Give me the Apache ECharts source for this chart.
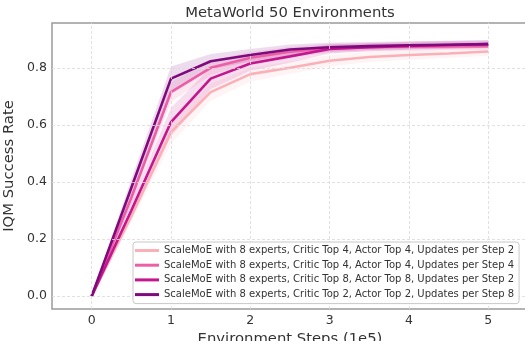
<!DOCTYPE html>
<html><head><meta charset="utf-8">
<script src="https://cdn.jsdelivr.net/npm/echarts@6/dist/echarts.min.js"></script>
<style>html,body{margin:0;padding:0;background:#fff}#c{width:525px;height:341px}</style>
</head><body><div id="c"></div>
<script>
const steps = [0, 0.5, 1, 1.5, 2, 2.5, 3, 3.5, 4, 4.5, 5];
const xTicks = [0, 1, 2, 3, 4, 5];
const yTicks = [0, 0.2, 0.4, 0.6, 0.8];
const names = [
  'ScaleMoE with 8 experts, Critic Top 4, Actor Top 4, Updates per Step 2',
  'ScaleMoE with 8 experts, Critic Top 4, Actor Top 4, Updates per Step 4',
  'ScaleMoE with 8 experts, Critic Top 8, Actor Top 8, Updates per Step 2',
  'ScaleMoE with 8 experts, Critic Top 2, Actor Top 2, Updates per Step 8'
];
const colors = ['#fbb0b8', '#ee5ea6', '#c4168f', '#7e0a7e'];
const meanTop4U2 = [0, 0.28, 0.575, 0.715, 0.778, 0.800, 0.825, 0.838, 0.845, 0.850, 0.857];
const meanTop4U4 = [0, 0.345, 0.715, 0.800, 0.835, 0.856, 0.868, 0.872, 0.874, 0.875, 0.876];
const meanTop8U2 = [0, 0.30, 0.610, 0.762, 0.815, 0.840, 0.866, 0.872, 0.877, 0.880, 0.883];
const meanTop2U8 = [0, 0.38, 0.762, 0.823, 0.845, 0.864, 0.872, 0.876, 0.879, 0.881, 0.883];
const lowTop4U2 = [0, 0.26, 0.535, 0.685, 0.752, 0.778, 0.805, 0.820, 0.828, 0.834, 0.842];
const highTop4U2 = [0, 0.30, 0.615, 0.745, 0.800, 0.822, 0.845, 0.856, 0.862, 0.866, 0.872];
const lowTop4U4 = [0, 0.32, 0.680, 0.775, 0.815, 0.838, 0.852, 0.858, 0.860, 0.862, 0.863];
const highTop4U4 = [0, 0.37, 0.750, 0.825, 0.855, 0.873, 0.884, 0.886, 0.888, 0.889, 0.890];
const lowTop8U2 = [0, 0.27, 0.560, 0.725, 0.790, 0.818, 0.850, 0.858, 0.863, 0.866, 0.869];
const highTop8U2 = [0, 0.33, 0.660, 0.800, 0.840, 0.860, 0.882, 0.886, 0.891, 0.894, 0.897];
const lowTop2U8 = [0, 0.35, 0.715, 0.795, 0.822, 0.845, 0.856, 0.862, 0.865, 0.868, 0.870];
const highTop2U8 = [0, 0.41, 0.805, 0.848, 0.866, 0.882, 0.888, 0.890, 0.893, 0.895, 0.897];

const means = [meanTop4U2, meanTop4U4, meanTop8U2, meanTop2U8];
const lows = [lowTop4U2, lowTop4U4, lowTop8U2, lowTop2U8];
const highs = [highTop4U2, highTop4U4, highTop8U2, highTop2U8];

const series = [];
const gridLineData = xTicks.map(v => ({xAxis: v})).concat(yTicks.map(v => ({yAxis: v})));
series.push({
  name: 'grid', type: 'line', symbol: 'none', silent: true, z: 0,
  lineStyle: {opacity: 0}, data: [[0, 0]],
  markLine: {
    silent: true, symbol: 'none', label: {show: false}, animation: false,
    lineStyle: {color: '#d9d9d9', type: [3, 2], width: 0.8},
    data: gridLineData
  }
});
means.forEach((m, i) => {
  series.push({
    name: 'band_' + i, type: 'custom', silent: true, z: 1,
    data: steps.map((x, j) => [x, lows[i][j], highs[i][j]]),
    renderItem: function (params, api) {
      if (params.dataIndex !== 0) return null;
      const pts = [];
      for (let j = 0; j < steps.length; j++) pts.push(api.coord([steps[j], highs[i][j]]));
      for (let j = steps.length - 1; j >= 0; j--) pts.push(api.coord([steps[j], lows[i][j]]));
      return {type: 'polygon', shape: {points: pts}, style: {fill: colors[i], opacity: 0.14}};
    }
  });
});
means.forEach((m, i) => {
  series.push({
    name: names[i], type: 'line', symbol: 'none', z: 3,
    lineStyle: {color: colors[i], width: 2.6},
    itemStyle: {color: colors[i]},
    data: steps.map((x, j) => [x, m[j]])
  });
});

const chart = echarts.init(document.getElementById('c'), null, {renderer: 'canvas'});
chart.setOption({
  animation: false,
  backgroundColor: '#fff',
  title: {
    text: 'MetaWorld 50 Environments', left: 290, textAlign: 'center', top: 6, padding: 0,
    textStyle: {fontFamily: 'DejaVu Sans', fontSize: 14.8, fontWeight: 'normal', color: '#333'}
  },
  grid: {left: 52, right: -3, top: 23, bottom: 32, containLabel: false, outerBoundsMode: 'none',
    show: true, borderColor: '#9a9a9a', borderWidth: 1.5, backgroundColor: '#fff'},
  legend: {
    data: names, orient: 'vertical', left: 133, top: 242, z: 10,
    itemWidth: 24, itemHeight: 3, itemGap: 2.7, icon: 'rect',
    padding: [2.5, 5, 3, 2],
    backgroundColor: 'rgba(255,255,255,0.85)', borderColor: '#c8c8c8', borderWidth: 1, borderRadius: 3,
    textStyle: {fontFamily: 'DejaVu Sans', fontSize: 10, color: '#333', lineHeight: 12}
  },
  xAxis: {
    type: 'value', min: -0.5, max: 5.5,
    name: 'Environment Steps (1e5)', nameLocation: 'middle', nameGap: 16,
    nameTextStyle: {fontFamily: 'DejaVu Sans', fontSize: 14.8, color: '#333'},
    axisLine: {show: false}, axisTick: {show: false}, splitLine: {show: false},
    axisLabel: {customValues: xTicks, fontFamily: 'DejaVu Sans', fontSize: 12.5, color: '#333', margin: 5}
  },
  yAxis: {
    type: 'value', min: -0.045, max: 0.957,
    name: 'IQM Success Rate', nameLocation: 'middle', nameGap: 26, nameRotate: 90,
    nameTextStyle: {fontFamily: 'DejaVu Sans', fontSize: 14.8, color: '#333'},
    axisLine: {show: false}, axisTick: {show: false}, splitLine: {show: false},
    axisLabel: {customValues: yTicks, formatter: v => v.toFixed(1), fontFamily: 'DejaVu Sans', fontSize: 12.5, color: '#333', margin: 5}
  },
  series: series
});
</script></body></html>
